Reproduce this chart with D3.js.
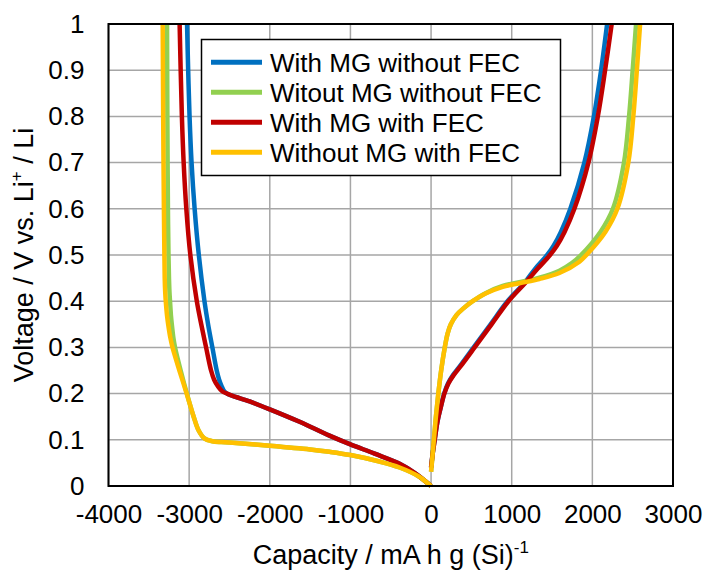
<!DOCTYPE html>
<html>
<head>
<meta charset="utf-8">
<script src="https://cdn.jsdelivr.net/npm/d3@7"></script>
<style>
  html, body { margin: 0; padding: 0; background: #fff; }
  svg { display: block; font-family: "Liberation Sans", Arial, sans-serif; }
</style>
</head>
<body>
<svg id="chart" width="709" height="574"></svg>
<script>
// ---------- DATA ----------
const seriesNames = ["With MG without FEC", "Witout MG without FEC", "With MG with FEC", "Without MG with FEC"];
const seriesColors = ["#0070C0", "#92D050", "#C00000", "#FFC000"];

const xTicks = [-4000, -3000, -2000, -1000, 0, 1000, 2000, 3000];
const yTicks = [0, 0.1, 0.2, 0.3, 0.4, 0.5, 0.6, 0.7, 0.8, 0.9, 1];

// [capacity mA h g(Si)-1, voltage V]
const mgNoFecDischarge = [[-3026,1.0],[-3012,0.9],[-2995,0.8],[-2970,0.7],[-2932,0.6],[-2880,0.5],[-2810,0.4],[-2765,0.35],[-2712,0.3],[-2658,0.25],[-2628,0.23],[-2595,0.215],[-2565,0.205],[-2530,0.2],[-2460,0.195],[-2250,0.183],[-2000,0.166],[-1630,0.139],[-1260,0.109],[-1000,0.09],[-700,0.07],[-390,0.048],[-200,0.028],[0,0.0]];
const noMgNoFecDischarge = [[-3274,1.0],[-3272,0.9],[-3270,0.8],[-3267,0.7],[-3263,0.6],[-3256,0.5],[-3250,0.45],[-3244,0.42],[-3237,0.4],[-3226,0.37],[-3215,0.35],[-3195,0.32],[-3175,0.3],[-3105,0.25],[-3028,0.2],[-2944,0.15],[-2882,0.12],[-2811,0.103],[-2712,0.097],[-2600,0.095],[-2500,0.094],[-2000,0.087],[-1500,0.079],[-1260,0.074],[-1000,0.067],[-640,0.053],[-390,0.04],[-145,0.02],[0,0.0]];
const mgFecDischarge = [[-3118,1.0],[-3105,0.9],[-3090,0.8],[-3068,0.7],[-3035,0.6],[-2985,0.5],[-2905,0.4],[-2850,0.35],[-2790,0.3],[-2728,0.25],[-2690,0.23],[-2640,0.215],[-2590,0.205],[-2530,0.2],[-2460,0.195],[-2250,0.183],[-2000,0.166],[-1630,0.139],[-1260,0.109],[-1000,0.09],[-700,0.07],[-390,0.048],[-200,0.028],[0,0.0]];
const noMgFecDischarge = [[-3328,1.0],[-3325,0.9],[-3322,0.8],[-3318,0.7],[-3313,0.6],[-3307,0.5],[-3303,0.45],[-3297,0.42],[-3290,0.4],[-3275,0.37],[-3260,0.35],[-3232,0.32],[-3206,0.3],[-3121,0.25],[-3031,0.2],[-2944,0.15],[-2882,0.12],[-2811,0.103],[-2712,0.097],[-2600,0.095],[-2500,0.094],[-2000,0.087],[-1500,0.079],[-1260,0.074],[-1000,0.067],[-640,0.053],[-390,0.04],[-145,0.02],[0,0.0]];

const mgNoFecCharge = [[0,0.04],[20,0.07],[45,0.1],[80,0.14],[120,0.17],[162,0.2],[210,0.222],[272,0.24],[360,0.26],[528,0.3],[738,0.35],[948,0.4],[1160,0.44],[1290,0.47],[1440,0.5],[1520,0.52],[1610,0.55],[1727,0.6],[1901,0.7],[2019,0.8],[2108,0.9],[2183,1.0]];
const noMgNoFecCharge = [[0,0.031],[15,0.06],[35,0.1],[60,0.15],[90,0.2],[125,0.25],[170,0.3],[205,0.33],[245,0.35],[315,0.37],[405,0.385],[516,0.4],[682,0.418],[888,0.433],[1095,0.441],[1343,0.451],[1591,0.466],[1750,0.483],[1860,0.5],[2100,0.55],[2255,0.6],[2392,0.7],[2455,0.8],[2500,0.9],[2542,1.0]];
const mgFecCharge = [[0,0.04],[20,0.07],[45,0.1],[80,0.14],[120,0.17],[165,0.2],[215,0.222],[280,0.24],[370,0.26],[540,0.3],[750,0.35],[960,0.4],[1170,0.44],[1320,0.47],[1475,0.5],[1560,0.52],[1655,0.55],[1777,0.6],[1951,0.7],[2068,0.8],[2158,0.9],[2240,1.0]];
const noMgFecCharge = [[0,0.031],[15,0.06],[35,0.1],[60,0.15],[90,0.2],[125,0.25],[170,0.3],[205,0.33],[245,0.35],[315,0.37],[405,0.385],[516,0.4],[682,0.417],[888,0.431],[1095,0.439],[1343,0.448],[1591,0.461],[1840,0.4855],[1926,0.5],[2161,0.55],[2310,0.6],[2446,0.7],[2508,0.8],[2552,0.9],[2592,1.0]];

const dischargeData = [mgNoFecDischarge, noMgNoFecDischarge, mgFecDischarge, noMgFecDischarge];
const chargeData = [mgNoFecCharge, noMgNoFecCharge, mgFecCharge, noMgFecCharge];

// ---------- LAYOUT ----------
const svg = d3.select("#chart");
const W = 709, H = 574;
const margin = { left: 108.5, right: W - 673, top: 24, bottom: H - 486 };
const x = d3.scaleLinear().domain([-4000, 3000]).range([margin.left, W - margin.right]);
const y = d3.scaleLinear().domain([0, 1]).range([H - margin.bottom, margin.top]);
const tickFont = 26, legendFont = 26, titleFont = 27;

// gridlines
const grid = svg.append("g");
grid.selectAll("line.vx").data(xTicks).join("line")
  .attr("x1", d => x(d)).attr("x2", d => x(d))
  .attr("y1", y(0)).attr("y2", y(1))
  .attr("stroke", "#a6a6a6").attr("stroke-width", 1.5);
grid.selectAll("line.hy").data(yTicks).join("line")
  .attr("x1", x(-4000)).attr("x2", x(3000))
  .attr("y1", d => y(d)).attr("y2", d => y(d))
  .attr("stroke", "#a6a6a6").attr("stroke-width", 1.5);

// axes (labels only, no tick marks)
const xAxis = d3.axisBottom(x).tickValues(xTicks).tickSize(0).tickPadding(19)
  .tickFormat(d => String(d));
const yAxis = d3.axisLeft(y).tickValues(yTicks).tickSize(0).tickPadding(24)
  .tickFormat(d => String(d));
const gx = svg.append("g").attr("transform", `translate(0,${y(0)})`).call(xAxis);
const gy = svg.append("g").attr("transform", `translate(${x(-4000)},0)`).call(yAxis);
[gx, gy].forEach(g => {
  g.select(".domain").remove();
  g.selectAll("text").attr("font-size", tickFont)
    .attr("font-family", "Liberation Sans, Arial, sans-serif").attr("fill", "#000");
});
gx.selectAll("text").attr("dy", "0.71em");

// series lines
const line = d3.line().x(d => x(d[0])).y(d => y(d[1])).curve(d3.curveCatmullRom.alpha(0.5));
const plot = svg.append("g");
for (let i = 0; i < seriesNames.length; i++) {
  [dischargeData[i], chargeData[i]].forEach(data => {
    plot.append("path").datum(data)
      .attr("d", line)
      .attr("fill", "none")
      .attr("stroke", seriesColors[i])
      .attr("stroke-width", 4.5)
      .attr("stroke-linejoin", "round");
  });
}

// frame
svg.append("rect")
  .attr("x", x(-4000)).attr("y", y(1))
  .attr("width", x(3000) - x(-4000)).attr("height", y(0) - y(1))
  .attr("fill", "none").attr("stroke", "#000").attr("stroke-width", 2);

// legend
const lg = svg.append("g");
lg.append("rect").attr("x", 201.5).attr("y", 39.5).attr("width", 359).attr("height", 136)
  .attr("fill", "#fff").attr("stroke", "#000").attr("stroke-width", 1.5);
seriesNames.forEach((name, i) => {
  const ly = 62.3 + i * 30;
  lg.append("line").attr("x1", 211).attr("x2", 262).attr("y1", ly).attr("y2", ly)
    .attr("stroke", seriesColors[i]).attr("stroke-width", 5);
  lg.append("text").attr("x", 270).attr("y", ly).attr("dy", "0.36em")
    .attr("font-size", legendFont).attr("fill", "#000").text(name);
});

// axis titles
const xt = svg.append("text").attr("x", (x(-4000) + x(3000)) / 2).attr("y", 564)
  .attr("text-anchor", "middle").attr("font-size", titleFont).attr("fill", "#000");
xt.append("tspan").text("Capacity / mA h g (Si)");
xt.append("tspan").attr("font-size", 17).attr("dy", -11).text("-1");

const ytx = 33, yty = (y(0) + y(1)) / 2;
const yt = svg.append("text").attr("transform", `translate(${ytx},${yty}) rotate(-90)`)
  .attr("text-anchor", "middle").attr("font-size", titleFont).attr("fill", "#000");
yt.append("tspan").text("Voltage / V vs. Li");
yt.append("tspan").attr("font-size", 17).attr("dy", -11).text("+");
yt.append("tspan").attr("dy", 11).text(" / Li");
</script>
</body>
</html>
